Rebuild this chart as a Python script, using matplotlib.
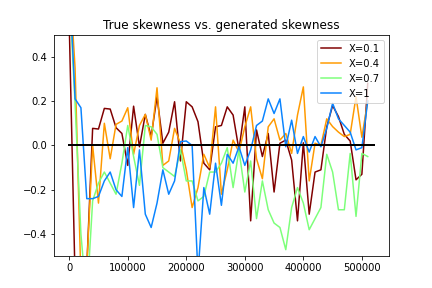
import matplotlib
matplotlib.use('Agg')
import matplotlib.pyplot as plt

# sample sizes (x axis)
n_samples = list(range(0, 520000, 10000))

# skewness difference for each X
skew_01 = [0.55, -0.6, -0.7, -0.55, 0.077, 0.074, 0.167, 0.164, 0.08, 0.054,
           -0.09, 0.177, -0.006, 0.14, 0.04, 0.22, 0.01, 0.06, 0.197, -0.07,
           0.197, 0.174, 0.107, -0.08, -0.11, 0.084, 0.09, 0.174, 0.137, -0.02,
           0.174, -0.34, 0.07, -0.05, 0.054, -0.21, 0.01, 0.024, -0.066, -0.34,
           0.012, -0.31, -0.12, -0.11, 0.084, 0.18, 0.13, 0.05, 0.02, -0.155,
           -0.13, 0.28]
skew_04 = [0.78, 0.35, -0.6, -0.55, 0.0, -0.26, 0.10, -0.06, 0.095, 0.11,
           0.17, -0.04, 0.09, 0.14, 0.024, 0.26, -0.09, -0.07, 0.077, 0.01,
           -0.11, -0.28, -0.19, -0.04, -0.10, 0.174, -0.22, -0.11, 0.024, -0.03,
           0.084, 0.174, -0.06, -0.15, 0.084, 0.12, 0.024, 0.054, -0.036, 0.137,
           0.264, -0.16, 0.01, 0.0, 0.12, 0.085, 0.06, 0.04, 0.05, 0.22,
           0.037, 0.2]
skew_07 = [0.7, 0.19, -0.4, -0.7, -0.25, -0.17, -0.12, -0.17, -0.22, -0.08,
           0.09, -0.05, -0.18, 0.09, 0.084, 0.05, -0.10, -0.12, -0.14, -0.02,
           -0.16, -0.16, -0.25, -0.23, -0.12, -0.12, -0.08, -0.01, -0.19, -0.02,
           -0.21, -0.07, -0.33, -0.16, -0.29, -0.35, -0.37, -0.47, -0.28, -0.19,
           -0.26, -0.38, -0.33, -0.28, -0.04, -0.12, -0.29, -0.29, -0.036, -0.32,
           -0.036, -0.05]
skew_1 = [0.77, 0.21, 0.17, -0.24, -0.24, -0.23, -0.16, -0.12, -0.2, -0.23,
          -0.01, -0.28, -0.02, -0.31, -0.37, -0.26, -0.11, -0.22, -0.16, 0.017,
          0.02, 0.0, -0.58, -0.19, -0.31, -0.08, -0.27, -0.04, -0.08, -0.006,
          -0.09, -0.02, 0.09, 0.11, 0.21, 0.144, 0.21, -0.006, 0.114, -0.036,
          0.04, -0.03, 0.04, -0.006, 0.077, 0.19, 0.12, 0.09, 0.06, -0.02,
          -0.01, 0.2]

labels = ['X=0.1', 'X=0.4', 'X=0.7', 'X=1']
colors = ['#800000', '#ff9a00', '#7dff7a', '#0a84ff']
zero_line_x = [0, 520000]

fig = plt.figure(figsize=(6, 4), dpi=72)
ax = fig.add_subplot(111)
for ys, lab, c in zip([skew_01, skew_04, skew_07, skew_1], labels, colors):
    ax.plot(n_samples, ys, color=c, label=lab)
ax.plot(zero_line_x, [0, 0], color='black', linewidth=2)
ax.set_ylim(-0.5, 0.5)
ax.set_title('True skewness vs. generated skewness')
ax.legend(loc='upper right')
fig.savefig('out.png', dpi=72)
